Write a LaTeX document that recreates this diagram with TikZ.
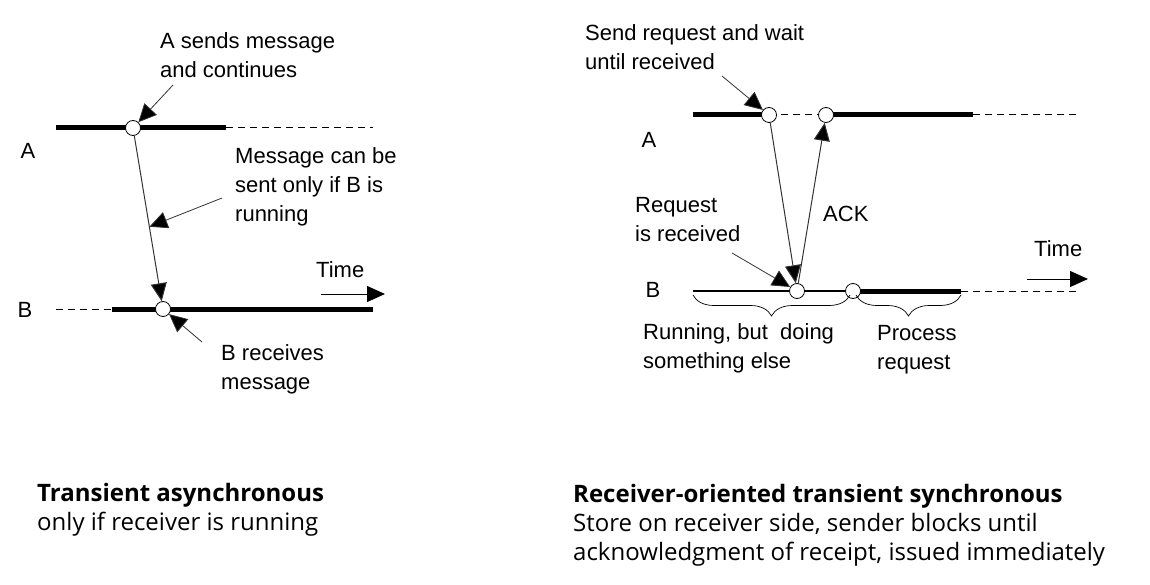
\documentclass[tikz,border=0pt]{standalone}
\usepackage{fontspec}
\setmainfont{Liberation Sans}
\newfontfamily\capfont{Open Sans}
\usetikzlibrary{arrows.meta,decorations.pathreplacing}

\begin{document}
\begin{tikzpicture}[x=1pt,y=-1pt,txt/.style={inner sep=0pt,align=left,anchor=base west,font=\fontsize{22}{29}\selectfont},lbl/.style={inner sep=0pt,font=\fontsize{22}{29}\selectfont},captxt/.style={inner sep=0pt,align=left,anchor=base west,font=\capfont\fontsize{24}{29}\selectfont},busy/.style={line width=5pt},idle/.style={line width=1pt,dash pattern=on 7pt off 5pt},event/.style={circle,draw,fill=white,line width=0.8pt,minimum size=15pt,inner sep=0pt},msg/.style={draw=black!80,line width=1pt,-{Triangle[length=18pt,width=16pt,fill=black]}},hint/.style={draw=black!80,line width=0.8pt,-{Triangle[length=18pt,width=17pt,fill=black]}},curly/.style={decorate,decoration={brace,mirror,amplitude=21pt},line width=0.7pt}]
\useasboundingbox (0,0) rectangle (1150,585);
\draw[busy] (56,128)--(226,128);
\draw[idle] (226,128)--(373,128);
\draw[idle] (56,309)--(112,309);
\draw[busy] (112,309)--(373,309);
\node[lbl] (pa) at (28,151) {A};
\node[lbl] (pb) at (25,310) {B};
\node[event] (snd) at (133,128) {};
\node[event] (rcv) at (163,309) {};
\draw[msg] (snd)-- coordinate[pos=0.55] (mid) (rcv);
\node[txt] (sndtxt) at (160,78) {A sends message\\and continues};
\coordinate (sndtail) at (173,85);
\draw[hint] (sndtail)--(snd);
\node[txt] (cantxt) at (235,222) {Message can be\\sent only if B is\\running};
\coordinate (cantail) at (222,198);
\draw[hint] (cantail)--(mid);
\node[txt] (rcvtxt) at (221,389) {B receives\\message};
\coordinate (rcvtail) at (202,342);
\draw[hint] (rcvtail)--(rcv);
\node[txt] (time1) at (316,277) {Time};
\coordinate (t1a) at (321,294);
\coordinate (t1b) at (385,294);
\draw[msg,draw=black] (t1a)--(t1b);
\draw[busy] (693,115)--(769,115);
\draw[idle] (769,115)--(826,115);
\draw[busy] (826,115)--(973,115);
\draw[idle] (973,115)--(1076,115);
\draw[line width=2.5pt] (693,291)--(853,291);
\draw[busy] (853,291)--(961,291);
\draw[idle] (961,291)--(1076,291);
\node[lbl] (qa) at (649,140) {A};
\node[lbl] (qb) at (653,290) {B};
\node[event] (req) at (769,115) {};
\node[event] (ackd) at (826,115) {};
\node[event] (got) at (797,291) {};
\node[event] (done) at (853,291) {};
\draw[msg] (req)--(got);
\draw[msg] (got)--(ackd);
\node[txt] (reqtxt) at (585,70) {Send request and wait\\until received};
\coordinate (reqtail) at (722,76);
\draw[hint] (reqtail)--(req);
\node[txt] (gottxt) at (635,242) {Request\\is received};
\coordinate (gottail) at (732,253);
\draw[hint] (gottail)--(got);
\node[txt] (acktxt) at (823,222) {ACK};
\node[txt] (time2) at (1034,256) {Time};
\coordinate (t2a) at (1027,279);
\coordinate (t2b) at (1088,279);
\draw[msg,draw=black] (t2a)--(t2b);
\draw[curly] (693,295)--(850,295);
\draw[curly] (856,295)--(961,295);
\node[txt] (runtxt) at (643,368) {Running, but\ \ doing\\something else};
\node[txt] (proctxt) at (877,369) {Process\\request};
\node[captxt] (cap1) at (37,530) {\textbf{Transient asynchronous}\\only if receiver is running};
\node[captxt] (cap2) at (573,560) {\textbf{Receiver-oriented transient synchronous}\\Store on receiver side, sender blocks until\\acknowledgment of receipt, issued immediately};
\end{tikzpicture}
\end{document}
